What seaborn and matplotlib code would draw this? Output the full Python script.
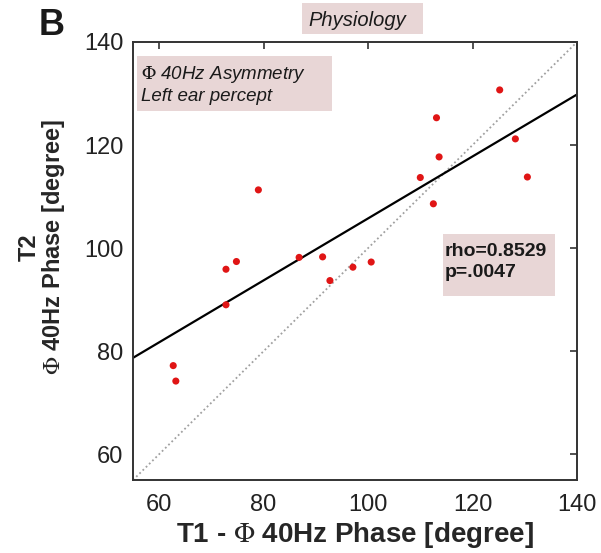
import numpy as np
import pandas as pd
import matplotlib
matplotlib.use('Agg')
import matplotlib.pyplot as plt
from matplotlib.patches import Rectangle
import seaborn as sns

# Phase values (degrees)
t1_phase = [125.2, 113.1, 128.2, 113.6, 110.0, 130.5, 79.0, 112.5, 86.8, 91.3,
            72.8, 74.8, 92.7, 97.1, 100.6, 72.8, 62.7, 63.2]
t2_phase = [130.7, 125.3, 121.2, 117.7, 113.7, 113.8, 111.3, 108.6, 98.2, 98.3,
            95.9, 97.4, 93.7, 96.3, 97.3, 89.0, 77.2, 74.2]
ticks = [60, 80, 100, 120, 140]
axis_range = [55, 140]

df = pd.DataFrame({'T1': t1_phase, 'T2': t2_phase})

sns.set_style('white')
plt.rcParams['font.family'] = ['Liberation Sans', 'DejaVu Sans']
plt.rcParams['mathtext.fontset'] = 'stix'
plt.rcParams['text.color'] = '#1a1a1a'

W, H = 601, 553
box_color = '#e8d6d6'


def fx(x):
    return x / W


def fy(y):
    return 1 - y / H


def text_box(x0, y0, x1, y1):
    # shaded annotation box, in figure pixels (y from top)
    fig.add_artist(Rectangle((fx(x0), fy(y1)), fx(x1) - fx(x0), fy(y0) - fy(y1),
                             transform=fig.transFigure, fc=box_color, ec='none', zorder=0))


fig = plt.figure(figsize=(6.01, 5.53), dpi=100)
ax = fig.add_axes([fx(133), fy(480), fx(577) - fx(133), fy(42) - fy(480)])
ax.set_xlim(axis_range)
ax.set_ylim(axis_range)

# identity line
ax.plot(axis_range, axis_range, linestyle=(0, (1, 1.5)), color='#a0a0a0', linewidth=1.3, zorder=1)

# regression line
sns.regplot(x='T1', y='T2', data=df, scatter=False, ci=None, truncate=False,
            color='black', line_kws={'linewidth': 1.6}, ax=ax)

sns.scatterplot(x='T1', y='T2', data=df, color='#e01515', s=26, edgecolor='none',
                ax=ax, zorder=3)

ax.set_xlim(axis_range)
ax.set_ylim(axis_range)
ax.set_xticks(ticks)
ax.set_yticks(ticks)
ax.tick_params(direction='in', length=5, width=1.2, labelsize=17, pad=7,
               top=True, right=True, colors='#333333', labelcolor='#222222')
ax.tick_params(axis='x', pad=10)
for s in ax.spines.values():
    s.set_color('#333333')
    s.set_linewidth(1.4)
ax.set_facecolor('none')

ax.set_xlabel(r'T1 - $\Phi$ 40Hz Phase [degree]', fontsize=20, fontweight='bold', labelpad=3)
ax.set_ylabel('T2\n' + r'$\Phi$ 40Hz Phase [degree]', fontsize=17, fontweight='bold',
              linespacing=0.95)
ax.yaxis.set_label_coords(-0.149, 0.532)

# title box
text_box(302, 3, 423, 34)
fig.text(fx(357), fy(21), 'Physiology', fontsize=14.5, style='italic', ha='center', va='center')

# condition box
text_box(137, 56, 332, 111)
fig.text(fx(141), fy(64), r'$\mathit{\Phi}$ 40Hz Asymmetry' + '\nLeft ear percept',
         fontsize=13.5, style='italic', ha='left', va='top', linespacing=1.2)

# statistics box
text_box(443, 234, 555, 296)
fig.text(fx(445), fy(243), 'rho=0.8529\np=.0047', fontsize=14, fontweight='bold',
         ha='left', va='top', linespacing=1.3)

fig.text(fx(39), fy(35), 'B', fontsize=26, fontweight='bold', ha='left', va='baseline')

fig.savefig('out.png', dpi=100)
